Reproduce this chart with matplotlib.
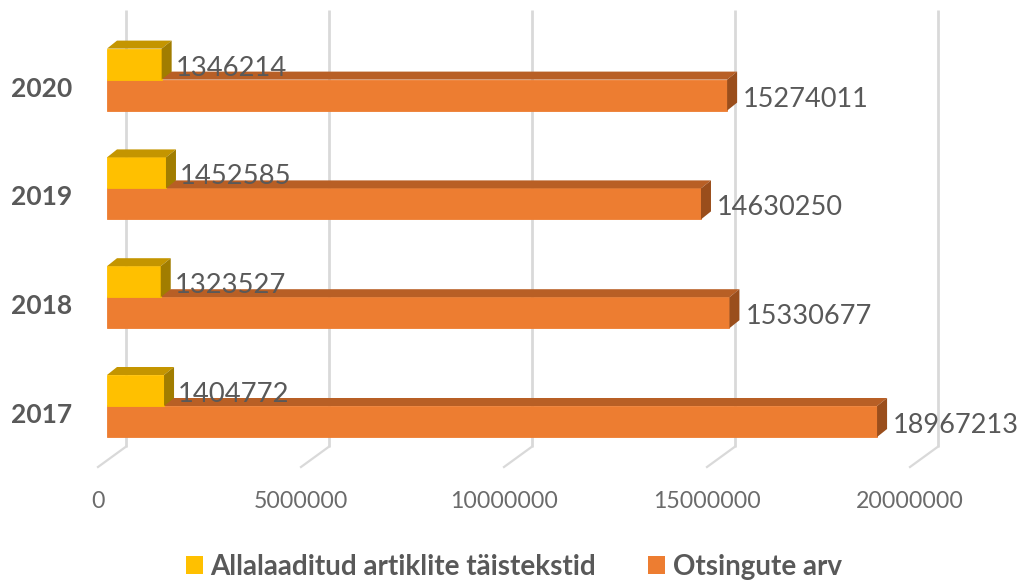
import matplotlib
matplotlib.use('Agg')
import matplotlib.pyplot as plt
from matplotlib.patches import Patch, Polygon

plt.rcParams['font.family'] = ['Lato', 'DejaVu Sans']

# ---- data ----
years = ['2017', '2018', '2019', '2020']
downloads = [1404772, 1323527, 1452585, 1346214]
searches = [18967213, 15330677, 14630250, 15274011]
ticks = [0, 5000000, 10000000, 15000000, 20000000]
name_downloads = 'Allalaaditud artiklite täistekstid'
name_searches = 'Otsingute arv'

# ---- scale: pixels per unit, so the fake 3d depth can be given in pixels ----
W, H = 1019, 582
x0_px, y0_px = 107, 406
sx = 40.6e-6
sy = 108.8


def dx(px):
    return px / sx


def dy(px):
    return px / sy


bar_h = dy(31)
GREY = '#595959'
YELLOW = ('#FFC000', '#C49500', '#A17D00')
ORANGE = ('#ED7D31', '#B85F25', '#9A4E1C')

fig = plt.figure(figsize=(W / 100, H / 100), dpi=100)
ax = fig.add_axes([0, 0, 1, 1])
ax.set_xlim(dx(-x0_px), dx(W - x0_px))
ax.set_ylim(dy(y0_px - H), dy(y0_px))
ax.axis('off')


def bar3d(y, value, cols):
    # front face plus top and right side faces
    ax.barh(y, value, height=bar_h, left=0, align='edge',
            color=cols[0], edgecolor=cols[0], linewidth=0.6, zorder=3)
    d_x, d_y = dx(10), dy(8)
    top = y + bar_h
    ax.add_patch(Polygon([(0, top), (d_x, top + d_y), (value + d_x, top + d_y), (value, top)],
                         facecolor=cols[1], edgecolor='none', zorder=3))
    ax.add_patch(Polygon([(value, y), (value + d_x, y + d_y), (value + d_x, top + d_y), (value, top)],
                         facecolor=cols[2], edgecolor='none', zorder=3))


# ---- back wall gridlines and floor ----
grid_top = dy(y0_px - 10)
grid_bot = dy(y0_px - 447)
floor_bot = dy(y0_px - 467)
for t in ticks:
    ax.plot([t + dx(18.5)] * 2, [grid_bot, grid_top], color='#D9D9D9', lw=2, zorder=1,
            solid_capstyle='butt')
    ax.plot([t + dx(18.5), t + dx(-9)], [grid_bot, floor_bot], color='#D9D9D9', lw=1.6, zorder=1)
    ax.text(t + dx(-9), dy(y0_px - 502), str(t), ha='center', va='center',
            fontsize=16.7, color='#6b6b6b')

# ---- bars ----
for i, year in enumerate(years):
    bar3d(i - bar_h, searches[i], ORANGE)
    bar3d(i, downloads[i], YELLOW)
    ax.text(searches[i] + dx(16), i - bar_h / 2 - dy(4), str(searches[i]), ha='left', va='center',
            fontsize=19.5, color=GREY, zorder=5)
    ax.text(downloads[i] + dx(14), i + bar_h / 2 - dy(4), str(downloads[i]), ha='left', va='center',
            fontsize=19.7, color=GREY, zorder=5)
    ax.text(dx(-35), i - dy(9), year, ha='right', va='center', fontsize=19,
            fontweight='bold', color=GREY)

# ---- legend ----
handles = [Patch(facecolor=YELLOW[0], label=name_downloads),
           Patch(facecolor=ORANGE[0], label=name_searches)]
ax.legend(handles=handles, loc='center', bbox_to_anchor=(514 / W, 1 - 567 / H), ncol=2, frameon=False,
          prop={'size': 20, 'weight': 'bold'}, labelcolor=GREY, handlelength=0.61, handleheight=0.61,
          handletextpad=0.27, columnspacing=1.87, borderpad=0, borderaxespad=0)

plt.savefig('out.png', dpi=100)
